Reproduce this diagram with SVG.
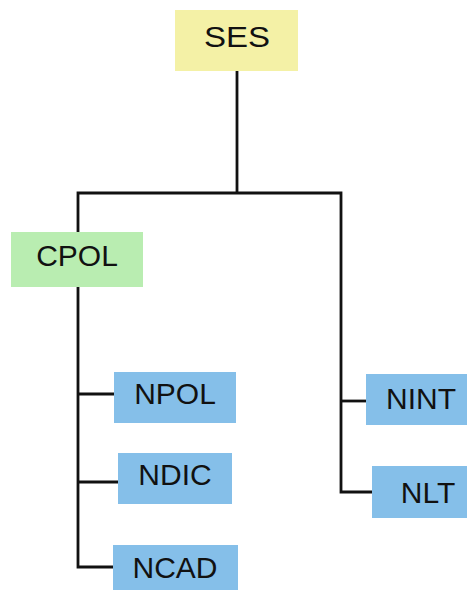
<svg xmlns="http://www.w3.org/2000/svg" width="467" height="593" viewBox="0 0 467 593">
  <style>
    .box-yellow { fill: #f4f1a6; }
    .box-green { fill: #b9edb1; }
    .box-blue { fill: #85bfe9; }
    .label { font-family: "Liberation Sans", Arial, sans-serif; font-size: 30px; fill: #111; text-anchor: middle; }
    .wire { fill: none; stroke: #111; stroke-width: 2.8; }
  </style>
  <rect width="467" height="593" fill="#ffffff"/>

  <g id="connectors">
    <path class="wire" d="M237 71 V193"/>
    <path class="wire" d="M78 232 V193 H341 V492 H372"/>
    <path class="wire" d="M341 401 H366"/>
    <path class="wire" d="M78 287 V567 H113"/>
    <path class="wire" d="M78 394 H114"/>
    <path class="wire" d="M78 482 H118"/>
  </g>

  <g id="node-ses">
    <rect class="box-yellow" x="175" y="10" width="123" height="61"/>
    <text class="label" x="237" y="47" font-size="33" transform="translate(237 0) scale(1.1 1) translate(-237 0)">SES</text>
  </g>
  <g id="node-cpol">
    <rect class="box-green" x="11" y="232" width="132" height="55"/>
    <text class="label" x="77" y="266">CPOL</text>
  </g>
  <g id="node-npol">
    <rect class="box-blue" x="114" y="372" width="122" height="51"/>
    <text class="label" x="175" y="404">NPOL</text>
  </g>
  <g id="node-ndic">
    <rect class="box-blue" x="118" y="453" width="114" height="51"/>
    <text class="label" x="175" y="485">NDIC</text>
  </g>
  <g id="node-ncad">
    <rect class="box-blue" x="113" y="545" width="125" height="45"/>
    <text class="label" x="175" y="578">NCAD</text>
  </g>
  <g id="node-nint">
    <rect class="box-blue" x="366" y="374" width="110" height="51"/>
    <text class="label" x="421" y="409">NINT</text>
  </g>
  <g id="node-nlt">
    <rect class="box-blue" x="372" y="466" width="110" height="52"/>
    <text class="label" x="428" y="503">NLT</text>
  </g>
</svg>
